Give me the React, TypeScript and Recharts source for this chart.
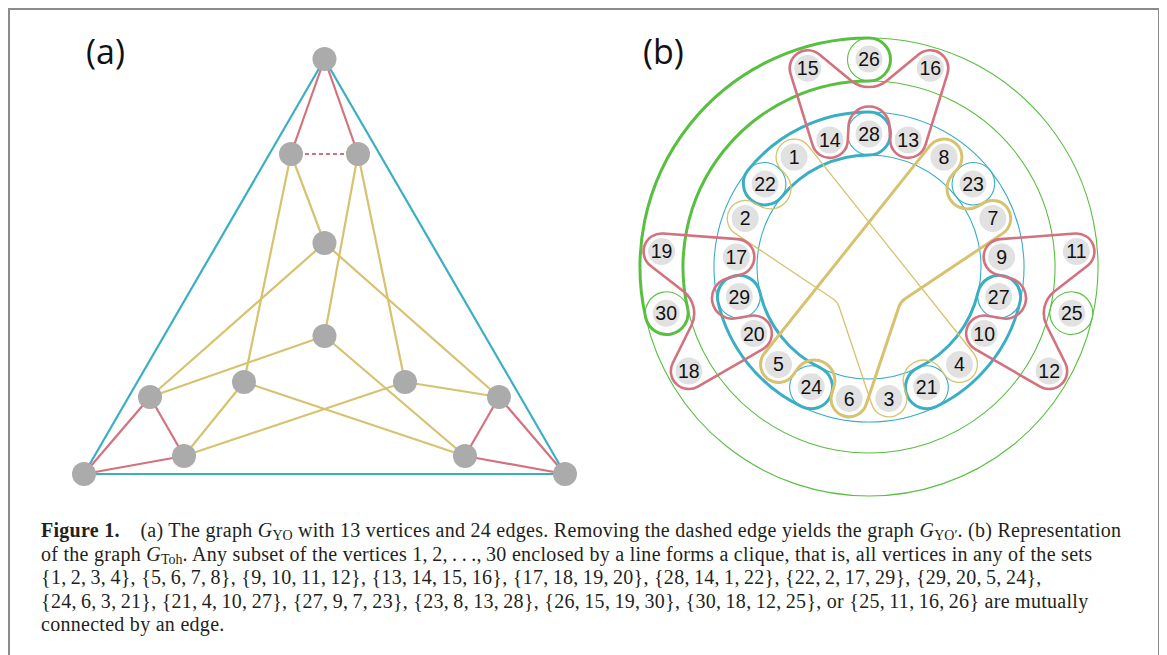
import React from "react";
import { ScatterChart, Scatter, XAxis, YAxis } from "recharts";

const CYAN = "#3aaec3";
const RED = "#d4717f";
const YELLOW = "#d6c26f";
const GREEN = "#58bf41";
const NODE_A = "#ababab";
const NODE_B = "#e1e1e1";

// ---------- (a) the graph G_YO ----------
const yoVertices = [
  { id: "A", x: 314.5, y: 451 },
  { id: "B", x: 281, y: 356 },
  { id: "C", x: 348, y: 356 },
  { id: "D", x: 314.5, y: 267 },
  { id: "E", x: 314.5, y: 174 },
  { id: "F", x: 140, y: 113 },
  { id: "G", x: 234, y: 128 },
  { id: "H", x: 395, y: 128 },
  { id: "I", x: 489, y: 113 },
  { id: "J", x: 174, y: 54 },
  { id: "K", x: 455, y: 54 },
  { id: "L", x: 74, y: 36 },
  { id: "M", x: 555, y: 36 },
];
const yoCyanEdges = [["A", "L"], ["A", "M"], ["L", "M"]];
const yoRedEdges = [["A", "B"], ["A", "C"], ["L", "F"], ["L", "J"], ["F", "J"], ["M", "I"], ["M", "K"], ["I", "K"]];
const yoDashedEdges = [["B", "C"]];
const yoYellowEdges = [
  ["B", "D"], ["B", "G"], ["C", "E"], ["C", "H"], ["D", "F"], ["D", "I"],
  ["E", "F"], ["E", "K"], ["G", "J"], ["G", "K"], ["H", "J"], ["H", "I"],
];

// ---------- (b) the graph G_Toh ----------
const SLOTS = 21;
const INNER_RING = 133;
const OUTER_RING = 208;
// inner ring, clockwise from the top, one vertex per slot
const innerVertices = [28, 13, 8, 23, 7, 9, 27, 10, 4, 21, 3, 6, 24, 5, 20, 29, 17, 2, 22, 1, 14];
// outer ring: [vertex, slot]
const outerVertices = [[26, 0], [16, 1], [11, 5], [25, 6], [12, 7], [18, 14], [30, 15], [19, 16], [15, 20]];
const blueCliques = [[28, 14, 1, 22], [22, 2, 17, 29], [29, 20, 5, 24], [24, 6, 3, 21], [21, 4, 10, 27], [27, 9, 7, 23], [23, 8, 13, 28]];
const blueBold = [true, false, true, false, true, false, false];
const greenCliques = [[26, 15, 19, 30], [30, 18, 12, 25], [25, 11, 16, 26]];
const greenBold = [true, false, false];
// closed outlines: "+" = wrapped around, "-" = passed on the other side
const redLoops = [
  ["15+", "26-", "16+", "13+", "28-", "14+"],
  ["19+", "17+", "29-", "20+", "18+", "30-"],
  ["11+", "25-", "12+", "10+", "27-", "9+"],
];
const yellowLoops = [
  ["1+", "4+", "21-", "3+", "P-", "2+", "22-"],
  ["8+", "23-", "7+", "Q-", "6+", "24-", "5+"],
];
const yellowBold = [false, true];
const yellowBends: Record<string, number[]> = { P: [-45, -45], Q: [45, -45] };

const A_W = 580, A_H = 500;
const A_X = [0, 580], A_Y = [0, 500];
const B_W = 560, B_H = 500;
const B_X = [-279, 281], B_Y = [-243, 257];

const ang = (slot: number) => (slot * 2 * Math.PI) / SLOTS;
const tohPos = new Map<number, { slot: number; ring: number }>();
innerVertices.forEach((v, i) => tohPos.set(v, { slot: i, ring: INNER_RING }));
outerVertices.forEach(([v, s]) => tohPos.set(v, { slot: s, ring: OUTER_RING }));
const tohNodes = Array.from(tohPos.entries()).map(([id, p]) => ({
  id,
  x: p.ring * Math.sin(ang(p.slot)),
  y: p.ring * Math.cos(ang(p.slot)),
}));

const yoById = new Map(yoVertices.map((v) => [v.id, v]));
const f = (n: number) => n.toFixed(2);

type Pulley = { x: number; y: number; r: number; s: number };

function beltPath(ps: Pulley[]) {
  const n = ps.length;
  const tan: { a: number[]; b: number[] }[] = [];
  for (let i = 0; i < n; i++) {
    const p = ps[i], q = ps[(i + 1) % n];
    const dx = q.x - p.x, dy = q.y - p.y;
    const m = Math.hypot(dx, dy);
    const kk = q.s * q.r - p.s * p.r;
    const al = Math.atan2(dy, dx) - Math.asin(Math.max(-1, Math.min(1, kk / m)));
    const nx = -Math.sin(al), ny = Math.cos(al);
    tan.push({
      a: [p.x - p.s * p.r * nx, p.y - p.s * p.r * ny],
      b: [q.x - q.s * q.r * nx, q.y - q.s * q.r * ny],
    });
  }
  let d = `M${f(tan[0].a[0])},${f(tan[0].a[1])}`;
  for (let i = 0; i < n; i++) {
    const end = tan[i].b;
    const nxt = tan[(i + 1) % n].a;
    const p = ps[(i + 1) % n];
    d += ` L${f(end[0])},${f(end[1])}`;
    let delta = Math.atan2(nxt[1] - p.y, nxt[0] - p.x) - Math.atan2(end[1] - p.y, end[0] - p.x);
    if (p.s > 0) while (delta < 0) delta += 2 * Math.PI;
    else while (delta > 0) delta -= 2 * Math.PI;
    d += ` A${f(p.r)},${f(p.r)} 0 ${Math.abs(delta) > Math.PI ? 1 : 0} ${p.s > 0 ? 1 : 0} ${f(nxt[0])},${f(nxt[1])}`;
  }
  return d + " Z";
}

function TohOutlines({ cx, cy }: { cx: number; cy: number }) {
  const k = B_W / (B_X[1] - B_X[0]);
  const pt = (rho: number, t: number) => `${f(cx + k * rho * Math.sin(t))},${f(cy - k * rho * Math.cos(t))}`;

  const band = (members: number[], r1: number, r2: number) => {
    const s1 = tohPos.get(members[0])!.slot;
    const s2 = tohPos.get(members[members.length - 1])!.slot;
    const diff = (s2 - s1 + SLOTS) % SLOTS;
    let start = s1, span = diff;
    if (diff > SLOTS / 2) {
      start = s2;
      span = SLOTS - diff;
    }
    const a = ang(start), b = ang(start + span);
    const h = (k * (r2 - r1)) / 2;
    const large = b - a > Math.PI ? 1 : 0;
    return `M${pt(r2, a)} A${k * r2},${k * r2} 0 ${large} 1 ${pt(r2, b)} A${h},${h} 0 0 1 ${pt(r1, b)} A${k * r1},${k * r1} 0 ${large} 0 ${pt(r1, a)} A${h},${h} 0 0 1 ${pt(r2, a)} Z`;
  };

  const loop = (tokens: string[], shift: number) =>
    beltPath(
      tokens.map((tok) => {
        const s = tok.endsWith("+") ? 1 : -1;
        const key = tok.slice(0, -1);
        if (yellowBends[key]) {
          const [x, y] = yellowBends[key];
          return { x: cx + k * x, y: cy - k * y, r: 16 * k, s };
        }
        const p = tohPos.get(Number(key))!;
        let rho = p.ring, r = 18;
        if (s < 0) {
          if (p.ring === INNER_RING) {
            rho += shift;
            r = 20.5;
          } else r = 28;
        }
        const t = ang(p.slot);
        return { x: cx + k * rho * Math.sin(t), y: cy - k * rho * Math.cos(t), r: r * k, s };
      })
    );

  return (
    <g fill="none">
      {greenCliques.map((c, i) => (
        <path key={"g" + i} d={band(c, 186, 229)} stroke={GREEN} strokeWidth={1.1} />
      ))}
      {greenCliques.map((c, i) =>
        greenBold[i] ? <path key={"G" + i} d={band(c, 186, 229)} stroke={GREEN} strokeWidth={3} /> : null
      )}
      {blueCliques.map((c, i) => (
        <path key={"b" + i} d={band(c, 112, 155)} stroke={CYAN} strokeWidth={1.1} />
      ))}
      {blueCliques.map((c, i) =>
        blueBold[i] ? <path key={"B" + i} d={band(c, 112, 155)} stroke={CYAN} strokeWidth={3} /> : null
      )}
      {yellowLoops.map((l, i) => (
        <path key={"y" + i} d={loop(l, -7)} stroke={YELLOW} strokeWidth={yellowBold[i] ? 3 : 1.3} />
      ))}
      {redLoops.map((l, i) => (
        <path key={"r" + i} d={loop(l, 7)} stroke={RED} strokeWidth={2.6} />
      ))}
    </g>
  );
}

const renderNothing = () => <g />;

const YoNode = (p: any) => <circle cx={p.cx} cy={p.cy} r={12} fill={NODE_A} />;

const TohNode = (p: any) => (
  <g>
    <circle cx={p.cx} cy={p.cy} r={13.5} fill={NODE_B} />
    <text
      x={p.cx}
      y={p.cy + 7}
      textAnchor="middle"
      fontFamily='"Liberation Sans", Arial, sans-serif'
      fontSize={19.5}
      fill="#111"
    >
      {p.payload.id}
    </text>
  </g>
);

function edgeScatters(edges: string[][], color: string, key: string, dash?: string) {
  return edges.map(([a, b], i) => (
    <Scatter
      key={key + i}
      data={[yoById.get(a), yoById.get(b)]}
      fill={color}
      line={{ stroke: color, strokeWidth: 2.2, strokeDasharray: dash }}
      shape={renderNothing}
      isAnimationActive={false}
    />
  ));
}

function GraphYO() {
  return (
    <ScatterChart width={A_W} height={A_H} margin={{ top: 0, right: 0, bottom: 0, left: 0 }}>
      <XAxis type="number" dataKey="x" domain={A_X} hide allowDataOverflow />
      <YAxis type="number" dataKey="y" domain={A_Y} hide allowDataOverflow />
      {edgeScatters(yoYellowEdges, YELLOW, "ye")}
      {edgeScatters(yoRedEdges, RED, "re")}
      {edgeScatters(yoDashedEdges, RED, "de", "4 3")}
      {edgeScatters(yoCyanEdges, CYAN, "ce")}
      <Scatter data={yoVertices} fill={NODE_A} shape={YoNode} isAnimationActive={false} />
    </ScatterChart>
  );
}

function GraphToh() {
  return (
    <ScatterChart width={B_W} height={B_H} margin={{ top: 0, right: 0, bottom: 0, left: 0 }}>
      <XAxis type="number" dataKey="x" domain={B_X} hide allowDataOverflow />
      <YAxis type="number" dataKey="y" domain={B_Y} hide allowDataOverflow />
      <Scatter
        data={[{ x: 0, y: 0 }]}
        shape={(p: any) => <TohOutlines cx={p.cx} cy={p.cy} />}
        isAnimationActive={false}
      />
      <Scatter data={tohNodes} fill={NODE_B} shape={TohNode} isAnimationActive={false} />
    </ScatterChart>
  );
}

const G = ({ sub }: { sub: string }) => (
  <span>
    <i>G</i>
    <span style={{ fontSize: "0.7em", position: "relative", top: "0.22em", lineHeight: 0, letterSpacing: 0 }}>{sub}</span>
  </span>
);

const panelLabel: React.CSSProperties = {
  position: "absolute",
  fontFamily: '"Open Sans", sans-serif',
  fontSize: 34,
  lineHeight: "34px",
  color: "#111",
};

export default function App() {
  return (
    <div
      style={{
        position: "relative",
        width: 1148,
        height: 660,
        border: "2px solid #8c8c8c",
        background: "#fff",
        overflow: "hidden",
      }}
    >
      <div style={{ position: "absolute", left: 0, top: 0 }}>
        <GraphYO />
      </div>
      <div style={{ position: "absolute", left: 580, top: 0 }}>
        <GraphToh />
      </div>
      <div style={{ ...panelLabel, left: 76, top: 24 }}>(a)</div>
      <div style={{ ...panelLabel, left: 633, top: 24 }}>(b)</div>
      <div
        style={{
          position: "absolute",
          left: 31,
          top: 509,
          fontFamily: '"Liberation Serif", "Times New Roman", serif',
          fontSize: 20,
          letterSpacing: 0.28,
          lineHeight: "23.6px",
          color: "#231f20",
          whiteSpace: "nowrap",
        }}
      >
        <div>
          <b>Figure 1.</b>
          {"\u2002\u2002"}(a) The graph <G sub="YO" /> with 13 vertices and 24 edges. Removing the dashed edge yields the
          graph <G sub={"YO\u2032"} />. (b) Representation
        </div>
        <div>
          of the graph <G sub="Toh" />. Any subset of the vertices 1,{"\u2009"}2,{"\u2009"}.{"\u2009"}.{"\u2009"}.,
          {"\u2009"}30 enclosed by a line forms a clique, that is, all vertices in any of the sets
        </div>
        <div>
          {"{1,\u20092,\u20093,\u20094}, {5,\u20096,\u20097,\u20098}, {9,\u200910,\u200911,\u200912}, {13,\u200914,\u200915,\u200916}, {17,\u200918,\u200919,\u200920}, {28,\u200914,\u20091,\u200922}, {22,\u20092,\u200917,\u200929}, {29,\u200920,\u20095,\u200924},"}
        </div>
        <div>
          {"{24,\u20096,\u20093,\u200921}, {21,\u20094,\u200910,\u200927}, {27,\u20099,\u20097,\u200923}, {23,\u20098,\u200913,\u200928}, {26,\u200915,\u200919,\u200930}, {30,\u200918,\u200912,\u200925}, or {25,\u200911,\u200916,\u200926} are mutually"}
        </div>
        <div>connected by an edge.</div>
      </div>
    </div>
  );
}
